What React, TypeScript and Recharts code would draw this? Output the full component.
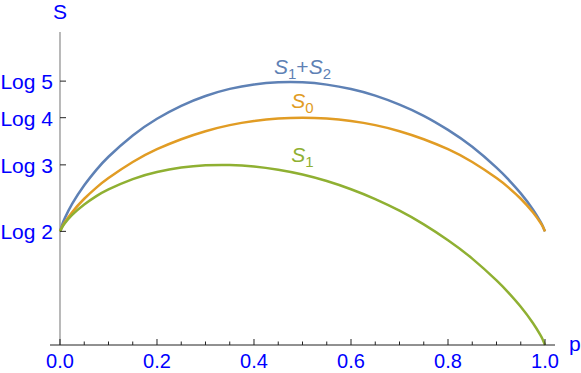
import React from "react"
import {
  LineChart,
  Line,
  XAxis,
  YAxis,
  ReferenceLine,
  ReferenceDot,
} from "recharts"

// p values along the horizontal axis
const pValues = [
  0, 0.005, 0.01, 0.025, 0.05, 0.075, 0.1, 0.15, 0.2, 0.25, 0.3, 0.35, 0.4,
  0.45, 0.5, 0.55, 0.6, 0.65, 0.7, 0.75, 0.8, 0.85, 0.9, 0.925, 0.95, 0.975,
  0.99, 0.995, 1,
]

// S1 + S2 (blue)
const s1s2 = [
  0.693, 0.739, 0.774, 0.86, 0.974, 1.068, 1.148, 1.278, 1.38, 1.459, 1.519,
  1.562, 1.589, 1.602, 1.602, 1.588, 1.561, 1.521, 1.466, 1.398, 1.312, 1.209,
  1.082, 1.008, 0.925, 0.827, 0.756, 0.728, 0.693,
]

// S0 (orange)
const s0 = [
  0.693, 0.725, 0.749, 0.81, 0.892, 0.96, 1.018, 1.116, 1.194, 1.255, 1.304,
  1.341, 1.366, 1.381, 1.386, 1.381, 1.366, 1.341, 1.304, 1.255, 1.194, 1.116,
  1.018, 0.96, 0.892, 0.81, 0.749, 0.725, 0.693,
]

// S1 (green)
const s1 = [
  0.693, 0.721, 0.742, 0.793, 0.857, 0.908, 0.949, 1.012, 1.055, 1.082, 1.096,
  1.098, 1.089, 1.069, 1.04, 1.0, 0.95, 0.89, 0.819, 0.736, 0.639, 0.527,
  0.394, 0.318, 0.233, 0.134, 0.063, 0.035, 0,
]

const xTicks = [
  0, 0.05, 0.1, 0.15, 0.2, 0.25, 0.3, 0.35, 0.4, 0.45, 0.5, 0.55, 0.6, 0.65,
  0.7, 0.75, 0.8, 0.85, 0.9, 0.95, 1,
]
const xMajor = [0, 0.2, 0.4, 0.6, 0.8, 1]

// y ticks sit at log 2 .. log 5
const yTicks = [0.6931, 1.0986, 1.3863, 1.6094]
const yTickLabels = ["Log 2", "Log 3", "Log 4", "Log 5"]

const data = pValues.map((p, i) => ({
  p,
  s1s2: s1s2[i],
  s0: s0[i],
  s1: s1[i],
}))

const FONT = "'Liberation Sans', Arial, sans-serif"
const BLUE = "#5e81b5"
const ORANGE = "#e19c24"
const GREEN = "#8fb032"

const XTick = ({ x, y, payload }) => {
  const major = xMajor.some((m) => Math.abs(m - payload.value) < 1e-6)
  return (
    <g>
      <line x1={x} x2={x} y1={y} y2={y - (major ? 6 : 3.5)} stroke="#222" />
      {major && (
        <text
          x={x}
          y={y + 23}
          textAnchor="middle"
          fill="blue"
          fontSize={20}
          fontFamily={FONT}
        >
          {payload.value.toFixed(1)}
        </text>
      )}
    </g>
  )
}

const YTick = ({ x, y, index }) => (
  <g>
    <line x1={x + 10} x2={x + 16} y1={y} y2={y} stroke="#222" />
    <text
      x={x + 3}
      y={y + 8}
      textAnchor="end"
      fill="blue"
      fontSize={21}
      fontFamily={FONT}
    >
      {yTickLabels[index]}
    </text>
  </g>
)

const CurveLabel = ({ cx, cy, color, sub, sub2 }) => (
  <text
    x={cx}
    y={cy}
    textAnchor="middle"
    fill={color}
    fontSize={21}
    fontFamily={FONT}
  >
    <tspan fontStyle="italic">S</tspan>
    <tspan fontSize={15} dy={5}>
      {sub}
    </tspan>
    {sub2 && (
      <>
        <tspan dy={-5}>+</tspan>
        <tspan fontStyle="italic">S</tspan>
        <tspan fontSize={15} dy={5}>
          {sub2}
        </tspan>
      </>
    )}
  </text>
)

export default function App() {
  return (
    <div style={{ position: "absolute", left: 0, top: 0, background: "#fff" }}>
      <LineChart
        width={581}
        height={373}
        data={data}
        margin={{ top: 32, right: 26, bottom: 0, left: 0 }}
      >
        <XAxis
          dataKey="p"
          type="number"
          domain={[-0.0206, 1.0206]}
          ticks={xTicks}
          interval={0}
          height={28}
          tickSize={0}
          tickMargin={0}
          tickLine={false}
          axisLine={{ stroke: "#222" }}
          tick={<XTick />}
          label={{
            content: ({ viewBox }) => (
              <text
                x={viewBox.x + viewBox.width + 14}
                y={viewBox.y + 6}
                fill="blue"
                fontSize={21}
                fontFamily={FONT}
              >
                p
              </text>
            ),
          }}
        />
        <YAxis
          type="number"
          domain={[0, 1.909]}
          ticks={yTicks}
          interval={0}
          width={50}
          tickSize={0}
          tickMargin={0}
          tickLine={false}
          axisLine={false}
          tick={<YTick />}
        />
        <ReferenceLine x={0} stroke="#8a8a8a" strokeWidth={1.2} />
        <Line
          dataKey="s1s2"
          type="natural"
          stroke={BLUE}
          strokeWidth={2.5}
          dot={false}
          isAnimationActive={false}
        />
        <Line
          dataKey="s0"
          type="natural"
          stroke={ORANGE}
          strokeWidth={2.5}
          dot={false}
          isAnimationActive={false}
        />
        <Line
          dataKey="s1"
          type="natural"
          stroke={GREEN}
          strokeWidth={2.5}
          dot={false}
          isAnimationActive={false}
        />
        <ReferenceDot
          x={0.5}
          y={1.652}
          r={0}
          shape={(props) => (
            <CurveLabel {...props} color={BLUE} sub="1" sub2="2" />
          )}
        />
        <ReferenceDot
          x={0.5}
          y={1.445}
          r={0}
          shape={(props) => <CurveLabel {...props} color={ORANGE} sub="0" />}
        />
        <ReferenceDot
          x={0.5}
          y={1.116}
          r={0}
          shape={(props) => <CurveLabel {...props} color={GREEN} sub="1" />}
        />
      </LineChart>
      <div
        style={{
          position: "absolute",
          left: 60,
          top: 0,
          transform: "translateX(-50%)",
          color: "blue",
          fontSize: 21,
          fontFamily: FONT,
          lineHeight: "24px",
        }}
      >
        S
      </div>
    </div>
  )
}
